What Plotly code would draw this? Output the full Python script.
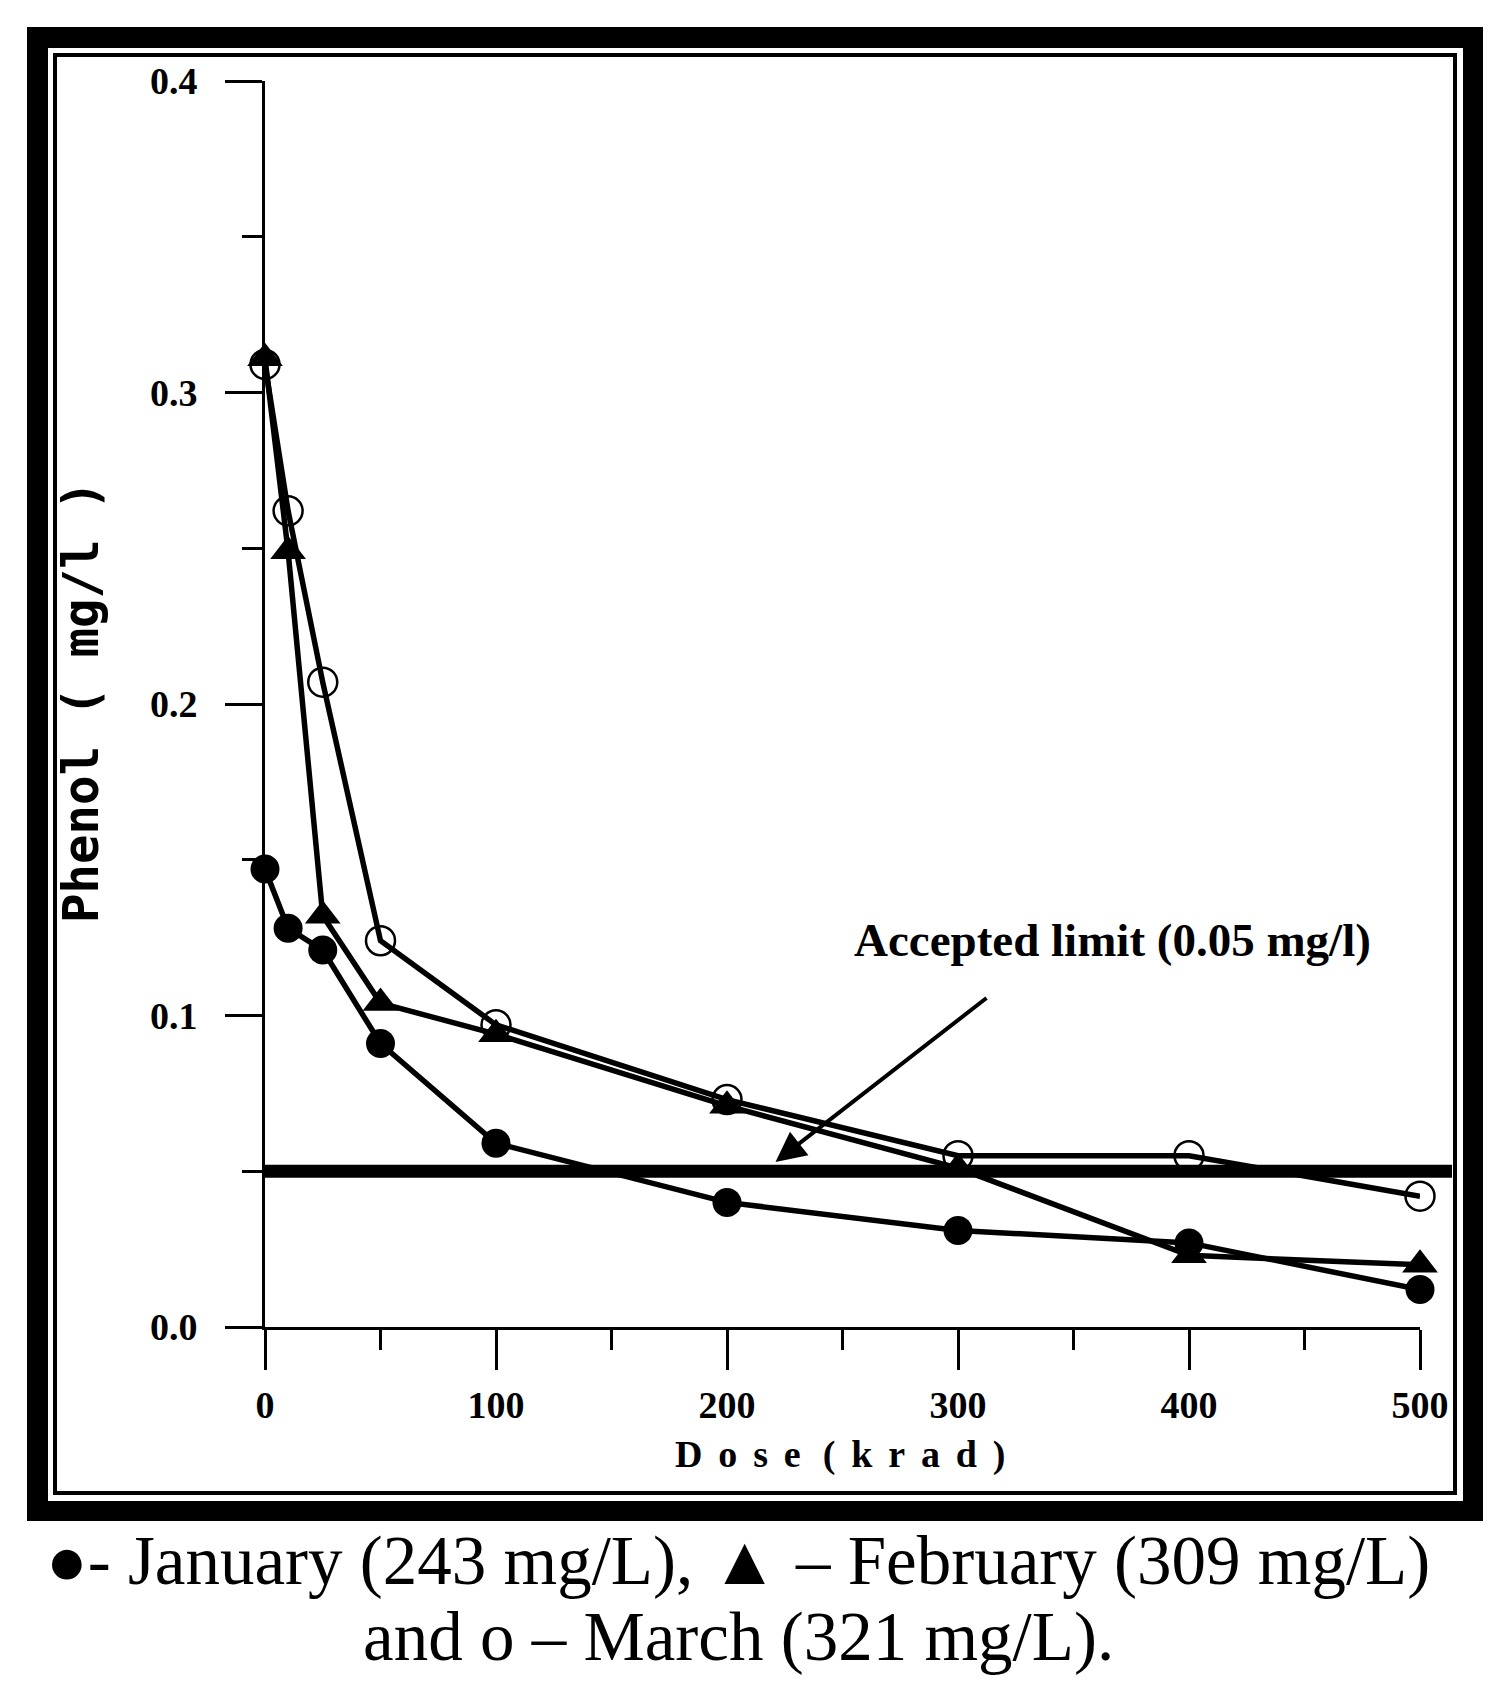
import plotly.graph_objects as go

# ---------------- data ----------------
dose = [0, 10, 25, 50, 100, 200, 300, 400, 500]
january = [0.147, 0.128, 0.121, 0.091, 0.059, 0.040, 0.031, 0.027, 0.012]
february = [0.311, 0.249, 0.132, 0.104, 0.094, 0.071, 0.051, 0.023, 0.020]
march = [0.309, 0.262, 0.207, 0.124, 0.097, 0.073, 0.055, 0.055, 0.042]

x_ticks = [0, 100, 200, 300, 400, 500]
x_tick_text = ["0", "100", "200", "300", "400", "500"]
y_ticks = [0.0, 0.1, 0.2, 0.3, 0.4]
y_tick_text = ["0.0", "0.1", "0.2", "0.3", "0.4"]

accepted_limit = 0.05
limit_label = "Accepted limit (0.05 mg/l)"
arrow_tip = (221, 0.053)
arrow_tail = (313, 0.106)

SP = "\u2004\u200a"
x_title = SP.join(["D", "o", "s", "e"]) + "\u2002\u200a" + SP.join(["(", "k", "r", "a", "d", ")"])
y_title = "Phenol ( mg/l )"
caption_1 = "●- January (243 mg/L), ▲ – February (309 mg/L)"
caption_2 = "and o – March (321 mg/L)."

# ---------------- layout geometry (pixels) ----------------
W, H = 1496, 1694
L, R, T, B = 257, 1412, 73, 1319   # plot area edges


def px(xp):
    return (xp - L) / (R - L)


def py(yp):
    return (B - yp) / (B - T)


TICK_FONT = dict(family="Liberation Serif", size=38, color="black", weight="bold")

fig = go.Figure()

common_line = dict(color="black", width=5.5)
fig.add_trace(go.Scatter(
    x=dose, y=march, mode="lines+markers", name="March",
    line=common_line,
    marker=dict(symbol="circle-open", size=29, color="black",
                line=dict(width=2.5, color="black")),
    cliponaxis=False, showlegend=False))
fig.add_trace(go.Scatter(
    x=dose, y=february, mode="lines+markers", name="February",
    line=common_line,
    marker=dict(symbol="triangle-up", size=31, color="black"),
    cliponaxis=False, showlegend=False))
fig.add_trace(go.Scatter(
    x=dose, y=january, mode="lines+markers", name="January",
    line=common_line,
    marker=dict(symbol="circle", size=29, color="black"),
    cliponaxis=False, showlegend=False))

shapes = []
# outer frame
shapes.append(dict(type="rect", xref="paper", yref="paper", layer="below",
                   x0=px(19), x1=px(1475), y0=py(19), y1=py(1513),
                   fillcolor="black", line=dict(width=0)))
shapes.append(dict(type="rect", xref="paper", yref="paper", layer="below",
                   x0=px(40), x1=px(1455), y0=py(40), y1=py(1493),
                   fillcolor="white", line=dict(width=0)))
shapes.append(dict(type="rect", xref="paper", yref="paper", layer="below",
                   x0=px(45), x1=px(1449), y0=py(45), y1=py(1487),
                   fillcolor="black", line=dict(width=0)))
shapes.append(dict(type="rect", xref="paper", yref="paper", layer="below",
                   x0=px(49), x1=px(1445), y0=py(49), y1=py(1483),
                   fillcolor="white", line=dict(width=0)))
# accepted limit line (extends to the inner frame)
shapes.append(dict(type="line", xref="paper", yref="y", layer="above",
                   x0=0, x1=px(1444), y0=accepted_limit, y1=accepted_limit,
                   line=dict(color="black", width=13)))

annotations = [
    dict(text=x_title,
         xref="paper", yref="paper", x=px(832), y=py(1446),
         xanchor="center", yanchor="middle", showarrow=False,
         font=dict(family="Liberation Serif", size=38, color="black", weight="bold")),
    dict(text=y_title, textangle=-90,
         xref="paper", yref="paper", x=px(73), y=py(694),
         xanchor="center", yanchor="middle", showarrow=False,
         font=dict(family="DejaVu Sans Mono", size=49, color="black", weight="bold")),
    dict(text=limit_label, xref="paper", yref="paper", x=px(1104), y=py(932),
         xanchor="center", yanchor="middle", showarrow=False,
         font=dict(family="Liberation Serif", size=47, color="black", weight="bold")),
    dict(text="", x=arrow_tip[0], y=arrow_tip[1], xref="x", yref="y",
         ax=arrow_tail[0], ay=arrow_tail[1], axref="x", ayref="y",
         showarrow=True, arrowhead=2, arrowsize=1.5, arrowwidth=4,
         arrowcolor="black"),
    dict(text=caption_1, xref="paper", yref="paper", x=px(730), y=py(1553),
         xanchor="center", yanchor="middle", showarrow=False,
         font=dict(family="Liberation Serif", size=69, color="black")),
    dict(text=caption_2, xref="paper", yref="paper", x=px(730), y=py(1629),
         xanchor="center", yanchor="middle", showarrow=False,
         font=dict(family="Liberation Serif", size=69, color="black")),
]

fig.update_layout(
    width=W, height=H,
    margin=dict(l=L, r=W - R, t=T, b=H - B, pad=0),
    paper_bgcolor="white", plot_bgcolor="rgba(0,0,0,0)",
    shapes=shapes, annotations=annotations,
    showlegend=False,
)

fig.update_xaxes(
    range=[0, 500], showline=True, linecolor="black", linewidth=3,
    showgrid=False, zeroline=False,
    ticks="outside", ticklen=40, tickwidth=3, tickcolor="black",
    tickvals=x_ticks, ticktext=x_tick_text, tickfont=TICK_FONT,
    ticklabelstandoff=2,
    minor=dict(dtick=50, ticks="outside", ticklen=20, tickwidth=3,
               tickcolor="black", showgrid=False),
)
fig.update_yaxes(
    range=[0, 0.4], showline=True, linecolor="black", linewidth=3,
    showgrid=False, zeroline=False,
    ticks="outside", ticklen=37, tickwidth=3, tickcolor="black",
    tickvals=y_ticks, ticktext=y_tick_text, tickfont=TICK_FONT,
    ticklabelstandoff=20,
    minor=dict(dtick=0.05, ticks="outside", ticklen=20, tickwidth=3,
               tickcolor="black", showgrid=False),
)

fig.write_html("out.html")
